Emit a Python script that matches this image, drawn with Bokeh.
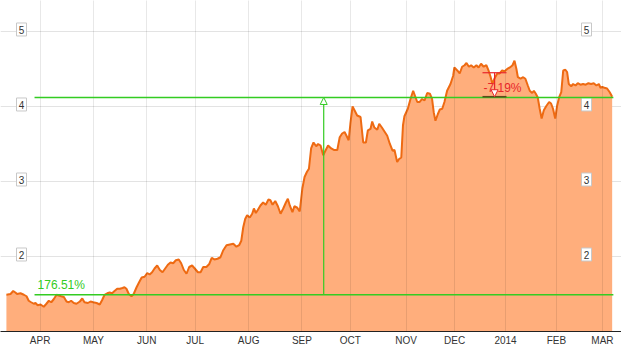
from bokeh.plotting import figure
from bokeh.models import FixedTicker, Range1d, Arrow, NormalHead
from bokeh.core.properties import value
from bokeh.embed import file_html
from bokeh.resources import INLINE

# trading-day index (0 = first session shown) and closing price
day = [-0.9, 0.8, 1.9, 2.8, 3.5, 4.9, 6.3, 7.4, 8.3, 9.3, 10.4, 11.1, 12.0, 13.2, 14.5, 15.6, 16.6, 17.6, 18.6, 19.8,
       20.7, 21.7, 22.8, 23.9, 24.8, 25.8, 26.9, 28.0, 29.4, 30.4, 31.3, 32.7, 33.8, 34.9, 36.3, 37.6,
       38.6, 39.6, 40.7, 41.7, 42.7, 43.7, 44.8, 45.9, 47.0, 47.8, 48.6, 49.6, 50.7, 51.6, 52.8, 53.9, 54.9, 56.1, 57.2, 58.2,
       59.2, 60.2, 61.3, 62.4, 63.5, 64.6, 65.7, 66.8, 67.9, 69.0, 70.2, 71.2, 72.3, 73.4, 74.5, 75.7, 76.8, 78.1, 79.2, 80.3,
       81.6, 82.8, 83.8, 84.9, 86.2, 87.4,
       88.5, 89.9, 91.3, 92.7, 94.0, 95.1, 96.0, 96.8, 97.6, 98.4, 99.5, 100.5, 101.2, 102.0, 102.8, 103.9, 105.0, 106.1, 107.2, 108.0,
       108.9, 110.0, 111.1, 112.2, 113.3, 114.4, 115.2, 116.0, 117.1, 117.9, 119.1, 120.1, 121.2, 122.1, 123.1, 123.9, 124.8, 125.8, 126.9, 127.7,
       128.7, 129.8, 130.7, 131.8, 133.1, 134.2, 135.6, 136.6, 137.6, 138.6, 139.4, 140.3, 141.0, 141.9, 142.7, 143.8, 145.2, 146.3, 147.4, 148.2,
       149.3, 150.0, 150.9, 152.1, 152.9, 154.0, 154.8, 156.2, 157.3, 158.4, 159.2, 160.3, 161.1, 162.0, 162.7, 163.3,
       164.7, 165.8, 166.9, 167.9, 168.6, 169.6, 170.6, 171.6, 172.7, 173.8, 174.7, 175.4, 176.1, 177.1, 177.9, 178.9, 179.8, 180.9, 182.3, 183.4,
       183.9, 185.1, 186.1, 187.1, 188.1, 188.9, 189.9, 190.8, 191.9, 193.0, 193.9, 194.9, 196.0, 197.1, 198.1, 198.8, 199.6, 200.4, 201.6, 202.6,
       203.6, 204.6, 205.7, 206.8, 207.9, 208.7, 209.5, 210.1, 211.2, 212.3, 213.2, 214.2, 215.0, 216.0, 216.7, 217.5, 218.3, 219.1, 219.9, 220.8,
       221.9, 223.0, 223.8, 224.6, 225.5, 226.3, 227.1, 228.0, 228.8, 229.7, 230.4, 231.1, 232.1, 232.9, 233.9, 234.8, 235.9, 237.0, 238.1, 239.2,
       240.3, 241.4, 242.5, 243.5, 244.2, 244.9, 245.8, 246.9, 248.0, 249.0]
close = [1.49, 1.50, 1.54, 1.52, 1.50, 1.51, 1.49, 1.47, 1.41, 1.39, 1.37, 1.38, 1.35, 1.36, 1.33, 1.37, 1.41, 1.39, 1.43, 1.49,
         1.48, 1.47, 1.46, 1.40, 1.39, 1.41, 1.38, 1.37, 1.40, 1.44, 1.39, 1.38, 1.40, 1.39, 1.38, 1.36,
         1.42, 1.49, 1.51, 1.52, 1.51, 1.54, 1.57, 1.57, 1.58, 1.59, 1.57, 1.50, 1.47, 1.50, 1.59, 1.66, 1.72, 1.73, 1.78, 1.76,
         1.79, 1.84, 1.88, 1.82, 1.79, 1.84, 1.89, 1.92, 1.91, 1.95, 1.96, 1.91, 1.82, 1.77, 1.86, 1.88, 1.84, 1.79, 1.79, 1.86,
         1.86, 1.90, 1.98, 1.96, 1.97, 1.99,
         2.08, 2.15, 2.16, 2.17, 2.13, 2.15, 2.21, 2.39, 2.50, 2.55, 2.52, 2.57, 2.64, 2.58, 2.62, 2.68, 2.72, 2.69, 2.76, 2.75,
         2.69, 2.74, 2.67, 2.57, 2.64, 2.72, 2.77, 2.68, 2.59, 2.67, 2.65, 2.60, 2.91, 3.06, 3.13, 3.17, 3.44, 3.52, 3.47, 3.50,
         3.48, 3.35, 3.41, 3.48, 3.44, 3.42, 3.42, 3.59, 3.64, 3.66, 3.61, 3.55, 3.77, 4.00, 3.95, 3.88, 3.86, 3.52, 3.52, 3.68,
         3.70, 3.80, 3.72, 3.69, 3.77, 3.72, 3.68, 3.61, 3.50, 3.41, 3.42, 3.26, 3.30, 3.32, 3.75, 3.87,
         3.97, 4.10, 4.21, 4.12, 4.06, 4.06, 4.10, 4.08, 4.18, 4.17, 4.10, 3.92, 3.81, 3.90, 3.96, 3.97, 4.06, 4.21, 4.30, 4.41,
         4.52, 4.48, 4.44, 4.53, 4.55, 4.58, 4.53, 4.55, 4.52, 4.55, 4.52, 4.57, 4.53, 4.55, 4.47, 4.40, 4.30, 4.37, 4.44, 4.44,
         4.48, 4.47, 4.50, 4.52, 4.55, 4.61, 4.50, 4.39, 4.37, 4.39, 4.37, 4.28, 4.21, 4.18, 4.21, 4.17, 4.12, 3.97, 3.84, 3.95,
         4.01, 4.06, 4.04, 3.97, 3.84, 4.01, 4.12, 4.19, 4.48, 4.49, 4.46, 4.30, 4.27, 4.30, 4.28, 4.31, 4.29, 4.30, 4.29, 4.31,
         4.30, 4.31, 4.28, 4.30, 4.25, 4.26, 4.25, 4.24, 4.19, 4.13]

month_days = [13, 35, 57, 77, 99, 121, 141, 164, 184, 205, 226, 245]
month_labels = ["APR", "MAY", "JUN", "JUL", "AUG", "SEP", "OCT", "NOV", "DEC", "2014", "FEB", "MAR"]
y_ticks = [2, 3, 4, 5]

# measurement annotations
growth_low = 1.49
growth_pct = 176.51
growth_day = 130
growth_span = [10.7, 249.5]
dd_top = 4.45
dd_pct = -7.19
dd_day = 200.5
dd_span = [195.5, 205.4]

growth_high = growth_low * (1 + growth_pct / 100)
dd_bottom = dd_top * (1 + dd_pct / 100)

GREEN = "#33cc22"
RED = "#e8262b"
LINE = "#ee6a12"
FILL = "#ffae7c"
FONT = "Liberation Sans"

X0, X1 = -3.34, 252.85
Y0, Y1 = 1.0, 5.413
FW, FH = 621, 331

p = figure(frame_width=FW, frame_height=FH, x_range=Range1d(X0, X1), y_range=Range1d(Y0, Y1),
           output_backend="svg", toolbar_location=None, min_border=0, y_axis_location=None)
p.outline_line_color = None
p.background_fill_color = "white"
p.border_fill_color = "white"

p.xaxis.ticker = FixedTicker(ticks=month_days)
p.xaxis.major_label_overrides = dict(zip(month_days, month_labels))
p.xaxis.axis_line_color = "#222222"
p.xaxis.major_tick_line_color = None
p.xaxis.minor_tick_line_color = None
p.xaxis.major_tick_out = 0
p.xaxis.major_tick_in = 0
p.xaxis.major_label_standoff = 3
p.xaxis.major_label_text_font = FONT
p.xaxis.major_label_text_font_size = "10px"
p.xaxis.major_label_text_color = "#333333"

p.xgrid.ticker = FixedTicker(ticks=month_days)
p.xgrid.grid_line_color = "#000000"
p.xgrid.grid_line_alpha = 0.09
p.xgrid.level = "annotation"
p.ygrid.ticker = FixedTicker(ticks=y_ticks)
p.ygrid.grid_line_color = "#e3e3e3"

p.varea(x=day, y1=[0.5] * len(day), y2=close, fill_color=FILL)
p.line(day, close, line_color=LINE, line_width=2)

# drawdown measurement
p.text(x=[dd_span[0]], y=[dd_bottom], text=[f"{dd_pct:.2f}%"], text_color=RED,
       text_font=value(FONT), text_font_size="12px", text_baseline="middle", x_offset=1, y_offset=-9,
       level="overlay")
p.line(x=dd_span, y=[dd_top, dd_top], line_color=RED, line_width=1.2, level="overlay")

# growth measurement
p.line(x=growth_span, y=[growth_low, growth_low], line_color=GREEN, line_width=1.6, level="overlay")
p.line(x=growth_span, y=[growth_high, growth_high], line_color=GREEN, line_width=1.6, level="overlay")
p.text(x=[growth_span[0]], y=[growth_low], text=[f"{growth_pct:.2f}%"], text_color=GREEN,
       text_font=value(FONT), text_font_size="12px", text_baseline="middle", x_offset=3, y_offset=-10,
       level="overlay")

p.line(x=dd_span, y=[dd_bottom, dd_bottom], line_color="#5e4a1c", line_width=1.6, level="overlay")

p.add_layout(Arrow(end=NormalHead(size=7, fill_color="white", line_color=GREEN, line_width=1),
                   x_start=growth_day, y_start=growth_low, x_end=growth_day, y_end=growth_high,
                   line_color=GREEN, line_width=1.2, level="overlay"))
p.add_layout(Arrow(end=NormalHead(size=7, fill_color="white", line_color=RED, line_width=1),
                   x_start=dd_day, y_start=dd_top, x_end=dd_day, y_end=dd_bottom,
                   line_color=RED, line_width=1.2, level="overlay"))

# boxed y labels inside both edges of the frame (positions in screen px converted to data)
label_px = [21, 586]
box_x = [X0 + px * (X1 - X0) / FW for px in label_px]
shift = 2 * (Y1 - Y0) / FH
bx = [bxv for bxv in box_x for _ in y_ticks]
by = [t + shift for _ in box_x for t in y_ticks]
bt = [str(t) for _ in box_x for t in y_ticks]
p.rect(x=bx, y=by, width=10, height=13, width_units="screen", height_units="screen",
       fill_color="white", line_color="#c8c8c8", line_width=1)
p.text(x=bx, y=by, text=bt, text_align="center", text_baseline="middle",
       text_font=value(FONT), text_font_size="10px", text_color="#333333", y_offset=1)

open("out.html", "w").write(file_html(p, INLINE))
